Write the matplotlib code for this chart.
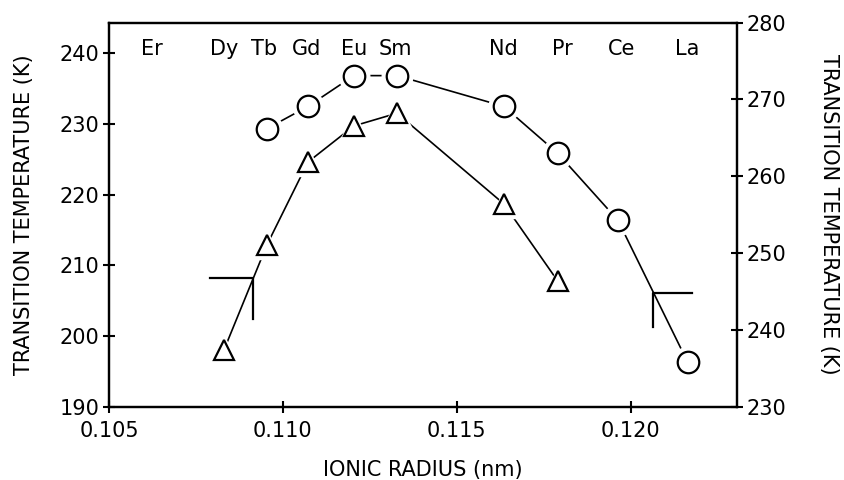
import matplotlib
matplotlib.use("Agg")
import matplotlib.pyplot as plt

plt.rcParams["font.family"] = ["DejaVu Sans"]

# Ionic radius (nm) and transition temperatures (K)
tri_x = [0.10830, 0.10954, 0.11072, 0.11204, 0.11328, 0.11635, 0.11790]
tri_y = [198.0, 212.9, 224.6, 229.7, 231.5, 218.7, 207.8]          # left axis

circ_x = [0.10954, 0.11072, 0.11204, 0.11328, 0.11635, 0.11790, 0.11963, 0.12164]
circ_y = [266.2, 269.1, 273.1, 273.1, 269.1, 263.0, 254.3, 235.8]  # right axis

elements = ["Er", "Dy", "Tb", "Gd", "Eu", "Sm", "Nd", "Pr", "Ce", "La"]
element_x = [0.10624, 0.10830, 0.10947, 0.11068, 0.11204, 0.11322, 0.11635,
             0.11802, 0.11975, 0.12161]

# corner marks (left axis / right axis)
mark_l_x = [0.10790, 0.10914, 0.10914]
mark_l_y = [208.2, 208.2, 202.4]
mark_r_x = [0.12175, 0.12063, 0.12063]
mark_r_y = [244.8, 244.8, 240.4]

fig = plt.figure(figsize=(8.45, 4.8), dpi=100)
ax = fig.add_axes([0.129, 0.152, 0.743, 0.801])
ax2 = ax.twinx()

fs = 15

# triangles on the left axis
ax.plot(tri_x, tri_y, color="black", lw=1.2, zorder=2)
ax.plot(tri_x, tri_y, ls="none", marker="^", ms=20, mfc="white", mec="white", zorder=3)
ax.plot(tri_x, tri_y, ls="none", marker="^", ms=14, mfc="white", mec="black",
        mew=1.6, zorder=4)
ax.plot(mark_l_x, mark_l_y, color="black", lw=1.6, zorder=5)

# circles on the right axis
ax2.plot(circ_x, circ_y, color="black", lw=1.2, zorder=2)
ax2.plot(circ_x, circ_y, ls="none", marker="o", ms=22, mfc="white", mec="white", zorder=3)
ax2.plot(circ_x, circ_y, ls="none", marker="o", ms=15.5, mfc="white", mec="black",
         mew=1.6, zorder=4)
ax2.plot(mark_r_x, mark_r_y, color="black", lw=1.6, zorder=5)

for name, xe in zip(elements, element_x):
    ax.text(xe, 0.932, name, transform=ax.get_xaxis_transform(), ha="center",
            va="center", fontsize=fs)

ax.set_xlim(0.105, 0.12305)
ax.set_ylim(190, 244.3)
ax2.set_ylim(230, 280)

ax.set_xticks([0.105, 0.110, 0.115, 0.120])
ax.set_xticklabels(["0.105", "0.110", "0.115", "0.120"])
ax.set_yticks([190, 200, 210, 220, 230, 240])
ax2.set_yticks([230, 240, 250, 260, 270, 280])

for a in (ax, ax2):
    for s in a.spines.values():
        s.set_linewidth(1.6)
    a.tick_params(direction="inout", length=8, width=1.5, labelsize=fs, pad=3)
ax.tick_params(axis="x", pad=6)
ax.tick_params(right=False)

ax.set_xlabel("IONIC RADIUS (nm)", fontsize=fs, labelpad=14)
ax.set_ylabel("TRANSITION TEMPERATURE (K)", fontsize=fs, labelpad=18)
ax2.set_ylabel("TRANSITION TEMPERATURE (K)", fontsize=fs, rotation=270,
               labelpad=38)

fig.savefig("out.png", dpi=100)
